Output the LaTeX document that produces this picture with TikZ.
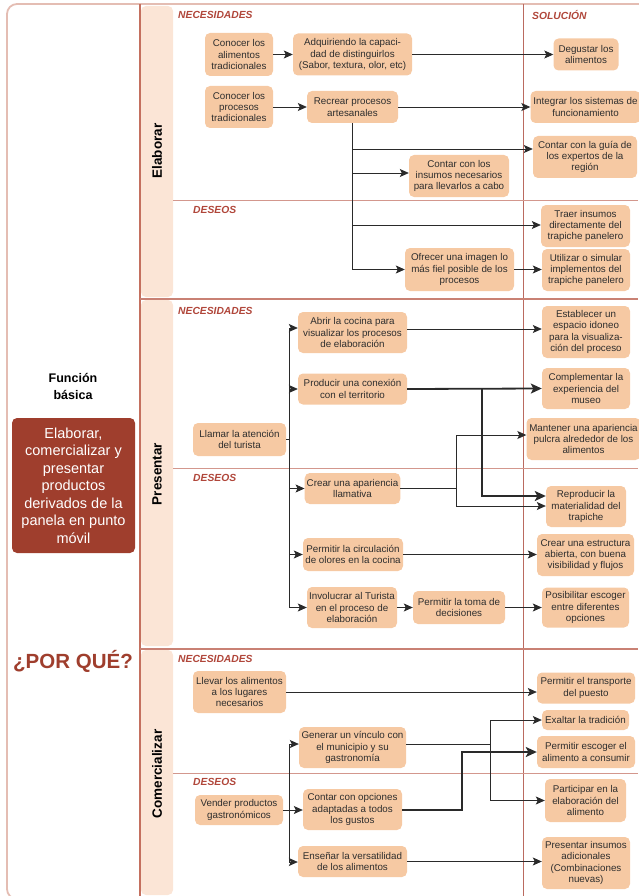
\documentclass[tikz,border=0pt]{standalone}
\usepackage{fontspec}
\setmainfont{Liberation Sans}
\usetikzlibrary{arrows.meta}

\definecolor{boxfill}{HTML}{F6C9A3}
\definecolor{bandfill}{HTML}{FBE5D6}
\definecolor{framecol}{HTML}{E4BDB3}
\definecolor{colline}{HTML}{C4705F}
\definecolor{secline}{HTML}{C98174}
\definecolor{subline}{HTML}{D3978D}
\definecolor{solline}{HTML}{BA6A60}
\definecolor{headcol}{HTML}{B0463A}
\definecolor{redbox}{HTML}{9F3E2D}
\definecolor{txtcol}{HTML}{2E2E2E}
\definecolor{arrcol}{HTML}{2A2A2A}

\tikzset{
  bx/.style={rectangle, rounded corners=5pt, fill=boxfill, draw=none, align=center,
    inner sep=2pt, text=txtcol, font=\fontsize{9.8}{11.4}\selectfont},
  head/.style={anchor=west, text=headcol, inner sep=0pt,
    font=\bfseries\itshape\fontsize{10.3}{12}\selectfont},
  vlabel/.style={rotate=90, text=black, font=\bfseries\fontsize{13.5}{16}\selectfont},
  ln/.style={draw=arrcol, line width=0.8pt},
  arr/.style={ln, -{Stealth[length=9pt,width=8pt,inset=2pt]}},
  arrK/.style={draw=arrcol, line width=1.8pt, -{Stealth[length=11pt,width=10pt,inset=2.5pt]}},
}

\begin{document}
\begin{tikzpicture}[x=1pt,y=-1pt]
\useasboundingbox (0,0) rectangle (638,896);

% ---------- frame, bands and grid lines ----------
\draw[framecol, line width=1.8pt, rounded corners=10pt] (7,4) rectangle (720,899);
\fill[bandfill, rounded corners=5pt] (141,6) rectangle (173,297);
\fill[bandfill, rounded corners=5pt] (141,300) rectangle (173,646);
\fill[bandfill, rounded corners=5pt] (141,650) rectangle (173,895);
\draw[colline, line width=1.2pt] (140,4) -- (140,896);
\draw[solline, line width=0.8pt] (523,4) -- (523,896);
\draw[secline, line width=2pt] (140,298.5) -- (638,298.5);
\draw[secline, line width=2pt] (140,648.5) -- (638,648.5);
\draw[subline, line width=1pt] (173,200) -- (638,200);
\draw[subline, line width=1pt] (173,468) -- (638,468);
\draw[subline, line width=1pt] (173,773) -- (638,773);

% ---------- left panel ----------
\node[align=center, font=\bfseries\fontsize{12.5}{17}\selectfont, text=black] (fb) at (73,386) {Función\\básica};
\node[rectangle, rounded corners=5pt, fill=redbox, text=white, align=center,
  minimum width=123, minimum height=135, inner sep=2pt,
  font=\fontsize{14.5}{17.5}\selectfont] (rb) at (73.5,485.5)
  {Elaborar,\\comercializar y\\presentar\\productos\\derivados de la\\panela en punto\\móvil};
\node[text=redbox, font=\bfseries\fontsize{20.5}{24}\selectfont] (pq) at (73,661) {¿POR QUÉ?};

% ---------- headings ----------
\node[head] (h1n) at (178,15) {NECESIDADES};
\node[head] (hsol) at (532,15) {SOLUCIÓN};
\node[head] (h1d) at (193,210) {DESEOS};
\node[head] (h2n) at (178,311) {NECESIDADES};
\node[head] (h2d) at (193,478) {DESEOS};
\node[head] (h3n) at (178,659) {NECESIDADES};
\node[head] (h3d) at (193,782) {DESEOS};

\node[vlabel] (lelab) at (157,151) {Elaborar};
\node[vlabel] (lpres) at (157,474) {Presentar};
\node[vlabel] (lcom) at (157,774) {Comercializar};

% ---------- Elaborar ----------
\node[bx, minimum width=68, minimum height=43] (a1) at (239,54.5) {Conocer los\\alimentos\\tradicionales};
\node[bx, minimum width=119, minimum height=42] (a2) at (352.5,54.5) {Adquiriendo la capaci-\\dad de distinguirlos\\(Sabor, textura, olor, etc)};
\node[bx, minimum width=65, minimum height=32] (a3) at (586,54.5) {Degustar los\\alimentos};
\node[bx, minimum width=68, minimum height=42] (b1) at (239,107) {Conocer los\\procesos\\tradicionales};
\node[bx, minimum width=91, minimum height=32] (b2) at (352.5,107) {Recrear procesos\\artesanales};
\node[bx, minimum width=110, minimum height=32] (b3) at (585.5,107) {Integrar los sistemas de\\funcionamiento};
\node[bx, minimum width=104, minimum height=42] (b4) at (585,157) {Contar con la guía de\\los expertos de la\\región};
\node[bx, minimum width=100, minimum height=42] (b5) at (459,176) {Contar con los\\insumos necesarios\\para llevarlos a cabo};
\node[bx, minimum width=89, minimum height=42] (c1) at (585.5,226) {Traer insumos\\directamente del\\trapiche panelero};
\node[bx, minimum width=109, minimum height=43] (c2) at (459.5,269.5) {Ofrecer una imagen lo\\más fiel posible de los\\procesos};
\node[bx, minimum width=88, minimum height=42] (c3) at (586,270) {Utilizar o simular\\implementos del\\trapiche panelero};

\draw[arr] (a1.east) -- (a2.west);
\draw[arr] (a2.east) -- (a3.west);
\draw[arr] (b1.east) -- (b2.west);
\draw[arr] (b2.east) -- (b3.west);
\coordinate (k1) at (352.5,149);
\coordinate (k2) at (352.5,173);
\coordinate (k3) at (352.5,225);
\draw[arr] (b2.south) |- (c2.west);
\draw[arr] (k1) -- (k1 -| b4.west);
\draw[arr] (k2) -- (k2 -| b5.west);
\draw[arr] (k3) -- (k3 -| c1.west);
\draw[arr] (c2.east) -- (c2.east -| c3.west);

% ---------- Presentar ----------
\node[bx, minimum width=93, minimum height=33] (d0) at (239.5,439.5) {Llamar la atención\\del turista};
\node[bx, minimum width=109, minimum height=41] (d1) at (352.5,332.5) {Abrir la cocina para\\visualizar los procesos\\de elaboración};
\node[bx, minimum width=109, minimum height=31] (d2) at (352.5,389) {Producir una conexión\\con el territorio};
\node[bx, minimum width=95, minimum height=31] (d3) at (352.5,488.5) {Crear una apariencia\\llamativa};
\node[bx, minimum width=100, minimum height=33] (d4) at (353,554.5) {Permitir la circulación\\de olores en la cocina};
\node[bx, minimum width=90, minimum height=41] (d5) at (352,607.5) {Involucrar al Turista\\en el proceso de\\elaboración};
\node[bx, minimum width=92, minimum height=33] (d6) at (459,607.5) {Permitir la toma de\\decisiones};
\node[bx, minimum width=87, minimum height=40] (d7) at (585.5,607.5) {Posibilitar escoger\\entre diferentes\\opciones};
\node[bx, minimum width=88, minimum height=52] (e1) at (586,332) {Establecer un\\espacio idoneo\\para la visualiza-\\ción del proceso};
\node[bx, minimum width=88, minimum height=41] (e2) at (586,388.5) {Complementar la\\experiencia del\\museo};
\node[bx, minimum width=114, minimum height=42] (e3) at (583.5,439) {Mantener una apariencia\\pulcra alrededor de los\\alimentos};
\node[bx, minimum width=80, minimum height=41] (e4) at (586,506.5) {Reproducir la\\materialidad del\\trapiche};
\node[bx, minimum width=97, minimum height=42] (e5) at (585.5,555) {Crear una estructura\\abierta, con buena\\visibilidad y flujos};

\coordinate (p) at (289,439.5);
\coordinate (ptop) at (289,328);
\coordinate (pbot) at (289,607.5);
\draw[ln] (d0.east) -- (p);
\draw[ln] (ptop) -- (pbot);
\draw[arr] (ptop) -- (ptop -| d1.west);
\draw[arr] (p |- d2.west) -- (d2.west);
\draw[arr] (p |- d3.west) -- (d3.west);
\draw[arr] (p |- d4.west) -- (d4.west);
\draw[arr] (pbot) -- (d5.west);
\draw[arr] (d5.east) -- (d6.west);
\draw[arr] (d6.east) -- (d7.west);
\coordinate (m1) at (400,329);
\draw[arr] (d1.east |- m1) -- (m1 -| e1.west);
\draw[arrK] (d2.east) -- (e2.west);
\coordinate (q1) at (482,389);
\coordinate (q2) at (482,496);
\draw[arrK] (q1) -- (q2) -- (q2 -| e4.west);
\coordinate (r) at (456,488.5);
\coordinate (r1) at (456,435);
\coordinate (r2) at (456,506);
\draw[ln] (d3.east) -- (r);
\draw[arr] (r) -- (r1) -- (r1 -| e3.west);
\draw[arr] (r) -- (r2) -- (r2 -| e4.west);
\draw[arr] (d4.east) -- (d4.east -| e5.west);

% ---------- Comercializar ----------
\node[bx, minimum width=93, minimum height=42] (f1) at (239.5,692) {Llevar los alimentos\\a los lugares\\necesarios};
\node[bx, minimum width=98, minimum height=31] (f2) at (586,688) {Permitir el transporte\\del puesto};
\node[bx, minimum width=88, minimum height=30] (g0) at (239,810) {Vender productos\\gastronómicos};
\node[bx, minimum width=107, minimum height=41] (g1) at (352.5,747.5) {Generar un vínculo con\\el municipio y su\\gastronomía};
\node[bx, minimum width=99, minimum height=41] (g2) at (352.5,809.5) {Contar con opciones\\adaptadas a todos\\los gustos};
\node[bx, minimum width=109, minimum height=31] (g3) at (352.5,861.5) {Enseñar la versatilidad\\de los alimentos};
\node[bx, minimum width=87, minimum height=20] (k1b) at (585.5,720) {Exaltar la tradición};
\node[bx, minimum width=98, minimum height=32] (k2b) at (586,752) {Permitir escoger el\\alimento a consumir};
\node[bx, minimum width=81, minimum height=43] (k3b) at (585.5,800.5) {Participar en la\\elaboración del\\alimento};
\node[bx, minimum width=88, minimum height=52] (k4b) at (586,863) {Presentar insumos\\adicionales\\(Combinaciones\\nuevas)};

\draw[arr] (f1.east) -- (f1.east -| f2.west);
\coordinate (s1) at (289,744);
\coordinate (s2) at (289,862);
\draw[ln] (s1) -- (s2);
\draw[arr] (g0.east) -- (g0.east -| g2.west);
\draw[arr] (s1) -- (s1 -| g1.west);
\draw[arr] (s2) -- (s2 -| g3.west);
\coordinate (u) at (490,744);
\draw[ln] (u -| g1.east) -- (u);
\draw[arr] (u) |- (k1b.west);
\draw[arr] (u) |- (k3b.west);
\coordinate (v) at (462,810);
\draw[arrK] (v -| g2.east) -- (v) |- (k2b.west);
\draw[arr] (g3.east) -- (g3.east -| k4b.west);
\end{tikzpicture}
\end{document}
